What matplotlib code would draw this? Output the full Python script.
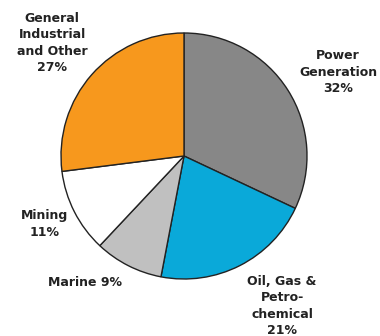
import matplotlib.pyplot as plt

# sector shares (%)
sectors = ['Power\nGeneration', 'Oil, Gas &\nPetro-\nchemical', 'Marine', 'Mining',
           'General\nIndustrial\nand Other']
shares = [32, 21, 9, 11, 27]
colors = ['#878787', '#0aa9d9', '#c0c0c0', '#ffffff', '#f7981d']

# label anchor points in pixel units (x, y from top)
label_pos = [(338, 72), (282, 306), (85, 282), (45, 224), (52, 43)]

fig = plt.figure(figsize=(3.8, 3.36), dpi=100)
ax = fig.add_axes([0, 0, 1, 1])

ax.pie(shares, colors=colors, startangle=90, counterclock=False,
       center=(184, 336 - 156), radius=123, frame=True,
       wedgeprops={'edgecolor': '#222222', 'linewidth': 1.0})
ax.set_xlim(0, 380)
ax.set_ylim(0, 336)
ax.axis('off')

for name, pct, (x, y) in zip(sectors, shares, label_pos):
    if name == 'Marine':
        label = f'{name} {pct}%'
    else:
        label = f'{name}\n{pct}%'
    ax.text(x, 336 - y, label, ha='center', va='center', fontsize=9,
            fontweight='bold', color='#222222', linespacing=1.33,
            family='DejaVu Sans')

fig.savefig('out.png', dpi=100)
